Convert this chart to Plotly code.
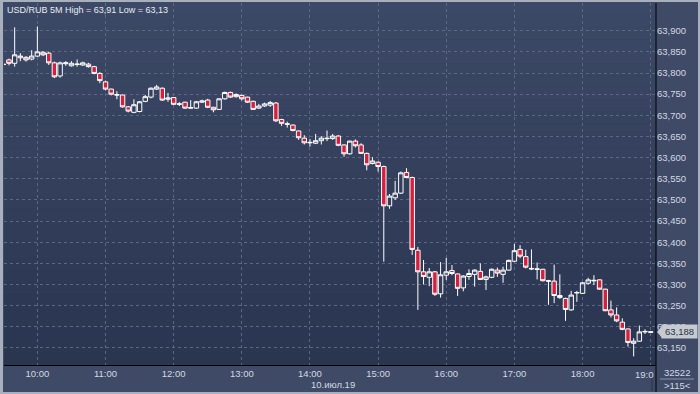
import plotly.graph_objects as go
import pandas as pd

# ---- data (USD/RUB, 5-minute candles, 10.07.2019 09:30 .. 19:00) ----
times = pd.date_range("2019-07-10 09:30", "2019-07-10 19:00", freq="5min")

open_ = [63.821, 63.831, 63.823, 63.836, 63.837, 63.833, 63.840, 63.849, 63.847, 63.824,
         63.793, 63.822, 63.817, 63.820, 63.819, 63.821, 63.815, 63.799, 63.779, 63.762,
         63.749, 63.748, 63.720, 63.707, 63.709, 63.733, 63.743, 63.762, 63.764, 63.738,
         63.742, 63.726, 63.731, 63.717, 63.717, 63.731, 63.736, 63.719, 63.714, 63.739,
         63.754, 63.744, 63.747, 63.743, 63.733, 63.717, 63.722, 63.724, 63.729, 63.690,
         63.680, 63.677, 63.663, 63.646, 63.635, 63.634, 63.640, 63.646, 63.645, 63.651,
         63.630, 63.609, 63.639, 63.630, 63.610, 63.586, 63.589, 63.579, 63.486, 63.505,
         63.516, 63.565, 63.553, 63.381, 63.330, 63.317, 63.330, 63.278, 63.322, 63.333,
         63.325, 63.292, 63.319, 63.324, 63.331, 63.312, 63.317, 63.334, 63.324, 63.334,
         63.355, 63.383, 63.366, 63.338, 63.337, 63.336, 63.309, 63.308, 63.269, 63.267,
         63.240, 63.280, 63.279, 63.303, 63.310, 63.311, 63.289, 63.240, 63.228, 63.211,
         63.195, 63.161, 63.166, 63.188, 63.187]
high = [63.825, 63.834, 63.908, 63.847, 63.840, 63.854, 63.910, 63.852, 63.850, 63.827,
        63.827, 63.828, 63.828, 63.832, 63.827, 63.824, 63.817, 63.802, 63.782, 63.763,
        63.757, 63.749, 63.722, 63.738, 63.734, 63.748, 63.766, 63.772, 63.766, 63.753,
        63.743, 63.731, 63.732, 63.736, 63.734, 63.737, 63.739, 63.720, 63.740, 63.756,
        63.756, 63.752, 63.749, 63.744, 63.735, 63.727, 63.730, 63.734, 63.731, 63.692,
        63.685, 63.678, 63.664, 63.653, 63.644, 63.656, 63.651, 63.664, 63.656, 63.653,
        63.631, 63.640, 63.643, 63.634, 63.612, 63.601, 63.591, 63.581, 63.514, 63.545,
        63.567, 63.575, 63.555, 63.389, 63.358, 63.339, 63.332, 63.353, 63.363, 63.346,
        63.326, 63.322, 63.336, 63.336, 63.350, 63.321, 63.338, 63.340, 63.342, 63.359,
        63.396, 63.393, 63.382, 63.383, 63.352, 63.337, 63.311, 63.347, 63.324, 63.269,
        63.285, 63.285, 63.306, 63.316, 63.322, 63.312, 63.290, 63.262, 63.246, 63.220,
        63.196, 63.173, 63.203, 63.194, 63.190]
low = [63.817, 63.818, 63.815, 63.828, 63.827, 63.830, 63.838, 63.840, 63.819, 63.788,
       63.789, 63.817, 63.815, 63.815, 63.817, 63.813, 63.797, 63.776, 63.759, 63.747,
       63.738, 63.718, 63.707, 63.705, 63.707, 63.731, 63.740, 63.760, 63.734, 63.732,
       63.724, 63.722, 63.715, 63.715, 63.715, 63.729, 63.717, 63.707, 63.713, 63.737,
       63.741, 63.742, 63.735, 63.729, 63.713, 63.715, 63.720, 63.720, 63.684, 63.675,
       63.671, 63.662, 63.642, 63.631, 63.626, 63.632, 63.631, 63.639, 63.642, 63.627,
       63.602, 63.607, 63.624, 63.609, 63.570, 63.584, 63.567, 63.354, 63.479, 63.500,
       63.514, 63.552, 63.370, 63.240, 63.300, 63.296, 63.273, 63.269, 63.311, 63.322,
       63.273, 63.284, 63.311, 63.295, 63.311, 63.287, 63.315, 63.318, 63.304, 63.333,
       63.353, 63.362, 63.338, 63.334, 63.312, 63.307, 63.252, 63.256, 63.266, 63.214,
       63.238, 63.259, 63.278, 63.300, 63.299, 63.288, 63.237, 63.222, 63.211, 63.192,
       63.153, 63.130, 63.165, 63.183, 63.186]
close = [63.820, 63.823, 63.843, 63.840, 63.831, 63.840, 63.850, 63.843, 63.824, 63.791,
         63.824, 63.824, 63.823, 63.821, 63.824, 63.815, 63.799, 63.782, 63.762, 63.750,
         63.748, 63.720, 63.710, 63.725, 63.732, 63.744, 63.764, 63.767, 63.736, 63.741,
         63.726, 63.727, 63.717, 63.718, 63.732, 63.734, 63.719, 63.713, 63.739, 63.754,
         63.743, 63.749, 63.739, 63.731, 63.714, 63.722, 63.727, 63.730, 63.687, 63.681,
         63.679, 63.664, 63.647, 63.635, 63.636, 63.640, 63.646, 63.645, 63.651, 63.629,
         63.609, 63.639, 63.628, 63.610, 63.583, 63.592, 63.579, 63.486, 63.509, 63.516,
         63.564, 63.553, 63.383, 63.330, 63.319, 63.330, 63.277, 63.323, 63.330, 63.326,
         63.291, 63.320, 63.326, 63.334, 63.312, 63.318, 63.336, 63.327, 63.334, 63.357,
         63.380, 63.367, 63.341, 63.337, 63.336, 63.309, 63.308, 63.274, 63.274, 63.241,
         63.275, 63.281, 63.304, 63.311, 63.309, 63.289, 63.238, 63.228, 63.214, 63.194,
         63.163, 63.166, 63.188, 63.189, 63.188]

y_ticks = [63.15, 63.20, 63.25, 63.30, 63.35, 63.40, 63.45, 63.50, 63.55, 63.60,
           63.65, 63.70, 63.75, 63.80, 63.85, 63.90]
x_tick_vals = ["2019-07-10 %02d:00" % h for h in range(10, 20)]
x_tick_text = ["10:00", "11:00", "12:00", "13:00", "14:00", "15:00", "16:00",
               "17:00", "18:00", ""]
title_text = "USD/RUB 5M High = 63,91 Low = 63,13"
date_text = "10.июл.19"
last_text = "63,188"
volume_text = "32522"
count_text = ">115<"

# ---- layout geometry (pixels) ----
W, H = 700, 394
PL, PR, PT, PB = 4, 656, 3, 365          # plot area edges in px
pw, ph = PR - PL, PB - PT


def px(x):
    return (x - PL) / pw


def py(y):
    return (PB - y) / ph


FONT = "Liberation Sans, Arial, sans-serif"
TXT = "#d4d9e3"
GRID = "#5b6884"

fig = go.Figure(go.Candlestick(
    x=times, open=open_, high=high, low=low, close=close,
    increasing=dict(line=dict(color="#ffffff", width=1), fillcolor="#323e5a"),
    decreasing=dict(line=dict(color="#ffffff", width=1), fillcolor="#d2203d"),
    whiskerwidth=0, showlegend=False, hoverinfo="skip",
))

shapes = []
# vertical gradient background of plot area
top_c = (60, 73, 102)
bot_c = (42, 53, 80)
n = 30
for k in range(n):
    t = k / (n - 1)
    c = tuple(round(top_c[j] + (bot_c[j] - top_c[j]) * t) for j in range(3))
    shapes.append(dict(type="rect", xref="paper", yref="paper", layer="below",
                       x0=0, x1=1, y0=1 - (k + 1) / n, y1=1 - k / n,
                       fillcolor="rgb(%d,%d,%d)" % c, line=dict(width=0)))
# right black separator extending down through time axis
shapes.append(dict(type="line", xref="paper", yref="paper", x0=1, x1=1,
                   y0=py(392), y1=1, line=dict(color="#000000", width=1)))
# small separator near 19:00 label
shapes.append(dict(type="line", xref="paper", yref="paper", x0=px(652), x1=px(652),
                   y0=py(391), y1=py(377), line=dict(color="#2a3348", width=1)))
# line between volume and count
shapes.append(dict(type="line", xref="paper", yref="paper", x0=px(660), x1=px(694),
                   y0=py(379), y1=py(379), line=dict(color="#8a93a6", width=1)))
# arrow of last-price label
shapes.append(dict(type="path", xref="paper", yref="paper",
                   path="M %f %f L %f %f L %f %f Z" % (px(657), py(331.9), px(662), py(326), px(662), py(337.8)),
                   fillcolor="#c6cad1", line=dict(width=0), layer="above"))
# outer light frame
for (x0, x1, y0, y1) in [(0, 3, 0, H), (0, W, 0, 2), (0, W, 392, H), (698, W, 0, H)]:
    shapes.append(dict(type="rect", xref="paper", yref="paper", x0=px(x0), x1=px(x1),
                       y0=py(y1), y1=py(y0), fillcolor="#a9b0bd", line=dict(width=0)))

annotations = [
    dict(text=title_text, xref="paper", yref="paper", x=px(5), y=py(10),
         xanchor="left", yanchor="middle", showarrow=False,
         font=dict(family=FONT, size=9, color="#e8ebf1")),
    dict(text=date_text, xref="paper", yref="paper", x=px(333), y=py(384),
         xanchor="center", yanchor="middle", showarrow=False,
         font=dict(family=FONT, size=9.5, color=TXT)),
    dict(text="19:0", xref="paper", yref="paper", x=px(656), y=py(374),
         xanchor="right", yanchor="middle", showarrow=False,
         font=dict(family=FONT, size=9.5, color=TXT)),
    dict(text=last_text, xref="paper", yref="y", x=px(661), y=close[-1],
         xanchor="left", yanchor="middle", showarrow=False,
         bgcolor="#c6cad1", borderpad=1, width=33,
         font=dict(family=FONT, size=9.5, color="#2b3346")),
    dict(text=volume_text, xref="paper", yref="paper", x=px(677), y=py(372),
         xanchor="center", yanchor="middle", showarrow=False,
         font=dict(family=FONT, size=9.5, color=TXT)),
    dict(text=count_text, xref="paper", yref="paper", x=px(677), y=py(385),
         xanchor="center", yanchor="middle", showarrow=False,
         font=dict(family=FONT, size=9.5, color=TXT)),
]

fig.update_layout(
    width=W, height=H,
    margin=dict(l=PL, r=W - PR, t=PT, b=H - PB, pad=0),
    paper_bgcolor="#3e4a66", plot_bgcolor="#34405d",
    separators=", ",
    boxgap=0.22, boxgroupgap=0,
    showlegend=False,
    shapes=shapes, annotations=annotations,
    xaxis=dict(
        type="date", rangeslider=dict(visible=False),
        range=["2019-07-10 09:30:37", "2019-07-10 19:04:40"],
        tickvals=x_tick_vals, ticktext=x_tick_text,
        showgrid=True, gridcolor=GRID, griddash="dot", gridwidth=1,
        showline=True, linecolor="#000000", linewidth=1,
        ticks="", tickfont=dict(family=FONT, size=9.5, color=TXT),
        zeroline=False, fixedrange=True,
    ),
    yaxis=dict(
        side="right", range=[63.1097, 63.9655],
        tickvals=y_ticks, tickformat=".3f",
        showgrid=True, gridcolor=GRID, griddash="dot", gridwidth=1,
        showline=False, ticks="", ticklen=0,
        tickfont=dict(family=FONT, size=9.5, color=TXT),
        zeroline=False, fixedrange=True,
    ),
)

fig.write_html(
    "out.html",
    config={"displayModeBar": False, "staticPlot": True},
    post_script="document.body.style.margin='0';document.body.style.padding='0';"
                "document.documentElement.style.overflow='hidden';",
)
